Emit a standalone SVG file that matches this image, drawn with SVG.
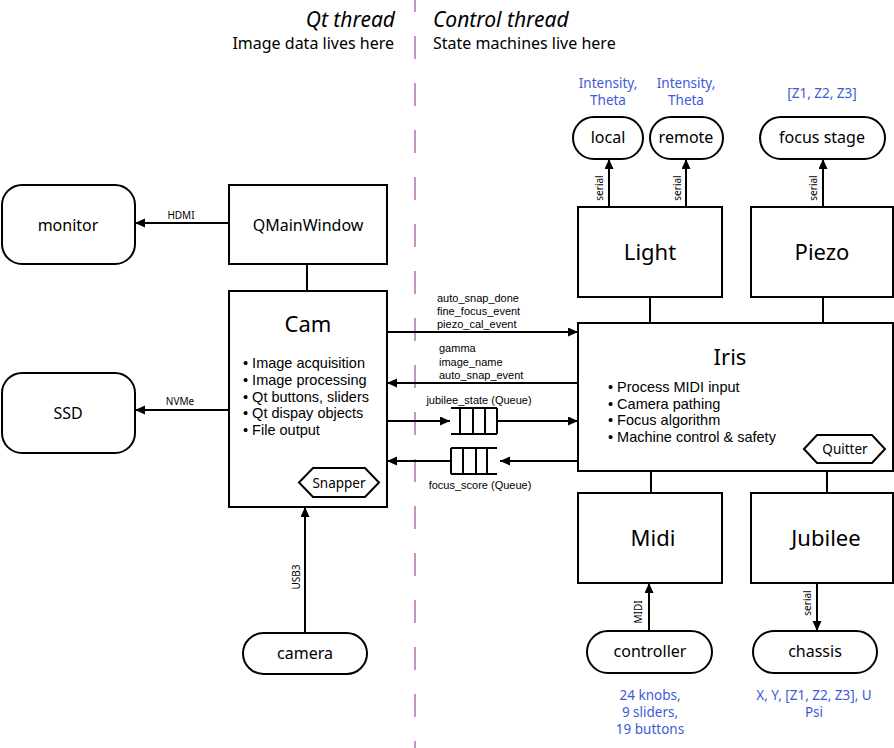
<svg xmlns="http://www.w3.org/2000/svg" width="894" height="748" viewBox="0 0 894 748">
<style>
  .box{fill:#fff;stroke:#000;stroke-width:2}
  .ln{fill:none;stroke:#000;stroke-width:2}
  .t{font-family:"Noto Sans","Liberation Sans",sans-serif;fill:#000}
  .node{font-size:16px;text-anchor:middle}
  .big{font-size:22px;text-anchor:middle}
  .bul{font-family:"Liberation Sans","Noto Sans",sans-serif;font-size:14.5px;fill:#000}
  .hex{font-size:13.5px;text-anchor:middle}
  .sm{font-family:"Liberation Sans","Noto Sans",sans-serif;font-size:11px;fill:#000}
  .lbl{font-size:10px}
  .blue{font-family:"Noto Sans","Liberation Sans",sans-serif;fill:#3c5bd6;font-size:13.5px;text-anchor:middle}
  .hdr{font-size:21px;font-style:italic}
  .sub{font-size:16px}
  .div{stroke:#c792c4;stroke-width:2;stroke-dasharray:23 24;stroke-dashoffset:11;fill:none}
</style>
<defs>
  <marker id="ah" markerUnits="userSpaceOnUse" markerWidth="11" markerHeight="10" refX="10" refY="4.5" orient="auto">
    <path d="M0,0 L10,4.5 L0,9 z" fill="#000"/>
  </marker>
</defs>
<rect width="894" height="748" fill="#fff"/>
<line class="div" x1="415" y1="0" x2="415" y2="748"/>
<g id="headers">
  <text class="t hdr" x="395" y="27" text-anchor="end">Qt thread</text>
  <text class="t sub" x="394" y="49" text-anchor="end">Image data lives here</text>
  <text class="t hdr" x="433" y="27">Control thread</text>
  <text class="t sub" x="433" y="49">State machines live here</text>
</g>
<g id="connectors">
  <line class="ln" x1="229" y1="223" x2="135" y2="223" marker-end="url(#ah)"/>
  <text class="t lbl" x="181" y="219" text-anchor="middle">HDMI</text>
  <line class="ln" x1="229" y1="410" x2="135" y2="410" marker-end="url(#ah)"/>
  <text class="t lbl" x="180" y="405" text-anchor="middle">NVMe</text>
  <line class="ln" x1="307" y1="264" x2="307" y2="291"/>
  <line class="ln" x1="305" y1="633" x2="305" y2="507" marker-end="url(#ah)"/>
  <text class="t lbl" x="300" y="577" text-anchor="middle" transform="rotate(-90 300 577)">USB3</text>
  <line class="ln" x1="387" y1="332" x2="578" y2="332" marker-end="url(#ah)"/>
  <text class="sm" x="437" y="302">auto_snap_done</text>
  <text class="sm" x="437" y="315">fine_focus_event</text>
  <text class="sm" x="437" y="328">piezo_cal_event</text>
  <line class="ln" x1="578" y1="383" x2="387" y2="383" marker-end="url(#ah)"/>
  <text class="sm" x="439" y="352">gamma</text>
  <text class="sm" x="439" y="366">image_name</text>
  <text class="sm" x="439" y="379">auto_snap_event</text>
  <line class="ln" x1="387" y1="421" x2="450" y2="421" marker-end="url(#ah)"/>
  <path class="ln" d="M451,408 H497 M451,434 H497 M460,408 V434 M473,408 V434 M485,408 V434 M497,408 V434"/>
  <line class="ln" x1="497" y1="421" x2="578" y2="421" marker-end="url(#ah)"/>
  <text class="sm" x="479" y="404" text-anchor="middle">jubilee_state (Queue)</text>
  <line class="ln" x1="578" y1="461" x2="500" y2="461" marker-end="url(#ah)"/>
  <path class="ln" d="M451,448 H497 M451,474 H497 M451,448 V474 M463,448 V474 M476,448 V474 M487,448 V474"/>
  <line class="ln" x1="451" y1="461" x2="387" y2="461" marker-end="url(#ah)"/>
  <text class="sm" x="480" y="489" text-anchor="middle">focus_score (Queue)</text>
  <line class="ln" x1="609" y1="207" x2="609" y2="159" marker-end="url(#ah)"/>
  <text class="t lbl" x="603" y="188" text-anchor="middle" transform="rotate(-90 603 188)">serial</text>
  <line class="ln" x1="686" y1="207" x2="686" y2="159" marker-end="url(#ah)"/>
  <text class="t lbl" x="681" y="188" text-anchor="middle" transform="rotate(-90 681 188)">serial</text>
  <line class="ln" x1="823" y1="207" x2="823" y2="159" marker-end="url(#ah)"/>
  <text class="t lbl" x="817" y="188" text-anchor="middle" transform="rotate(-90 817 188)">serial</text>
  <line class="ln" x1="650" y1="297" x2="650" y2="323"/>
  <line class="ln" x1="823" y1="297" x2="823" y2="323"/>
  <line class="ln" x1="651" y1="471" x2="651" y2="493"/>
  <line class="ln" x1="827" y1="471" x2="827" y2="493"/>
  <line class="ln" x1="649" y1="631" x2="649" y2="583" marker-end="url(#ah)"/>
  <text class="t lbl" x="642" y="612" text-anchor="middle" transform="rotate(-90 642 612)">MIDI</text>
  <line class="ln" x1="817" y1="583" x2="817" y2="631" marker-end="url(#ah)"/>
  <text class="t lbl" x="811" y="603" text-anchor="middle" transform="rotate(-90 811 603)">serial</text>
</g>
<g id="monitor">
  <rect class="box" x="2" y="185" width="133" height="79" rx="20"/>
  <text class="t node" x="68" y="231">monitor</text>
</g>
<g id="ssd">
  <rect class="box" x="2" y="373" width="133" height="80" rx="20"/>
  <text class="t node" x="68" y="419">SSD</text>
</g>
<g id="qmainwindow">
  <rect class="box" x="229" y="185" width="158" height="79"/>
  <text class="t node" x="308" y="231">QMainWindow</text>
</g>
<g id="cam">
  <rect class="box" x="229" y="291" width="158" height="216"/>
  <text class="t big" x="308" y="332">Cam</text>
  <text class="bul" x="243" y="368">• Image acquisition</text>
  <text class="bul" x="243" y="384.75">• Image processing</text>
  <text class="bul" x="243" y="401.5">• Qt buttons, sliders</text>
  <text class="bul" x="243" y="418.25">• Qt dispay objects</text>
  <text class="bul" x="243" y="435">• File output</text>
  <polygon class="box" points="299,482.5 313,468 365,468 379,482.5 365,497 313,497"/>
  <text class="t hex" x="339" y="487.5">Snapper</text>
</g>
<g id="camera">
  <rect class="box" x="243" y="633" width="124" height="41" rx="20.5"/>
  <text class="t node" x="305" y="659">camera</text>
</g>
<g id="local">
  <rect class="box" x="573" y="117" width="70" height="42" rx="21"/>
  <text class="t node" x="608" y="143">local</text>
  <text class="blue" x="608" y="88">Intensity,</text>
  <text class="blue" x="608" y="105">Theta</text>
</g>
<g id="remote">
  <rect class="box" x="650" y="117" width="73" height="42" rx="21"/>
  <text class="t node" x="686" y="143">remote</text>
  <text class="blue" x="686" y="88">Intensity,</text>
  <text class="blue" x="686" y="105">Theta</text>
</g>
<g id="focus-stage">
  <rect class="box" x="760" y="117" width="125" height="42" rx="21"/>
  <text class="t node" x="822" y="143">focus stage</text>
  <text class="blue" x="822" y="98">[Z1, Z2, Z3]</text>
</g>
<g id="light">
  <rect class="box" x="578" y="207" width="144" height="90"/>
  <text class="t big" x="650" y="260">Light</text>
</g>
<g id="piezo">
  <rect class="box" x="751" y="207" width="142" height="90"/>
  <text class="t big" x="822" y="260">Piezo</text>
</g>
<g id="iris">
  <rect class="box" x="578" y="323" width="315" height="148"/>
  <text class="t big" x="730" y="365" font-size="24">Iris</text>
  <text class="bul" x="608" y="392">• Process MIDI input</text>
  <text class="bul" x="608" y="408.7">• Camera pathing</text>
  <text class="bul" x="608" y="425.3">• Focus algorithm</text>
  <text class="bul" x="608" y="442">• Machine control &amp; safety</text>
  <polygon class="box" points="804,449 817,435 872,435 885,449 872,463 817,463"/>
  <text class="t hex" x="845" y="454">Quitter</text>
</g>
<g id="midi">
  <rect class="box" x="578" y="493" width="144" height="90"/>
  <text class="t big" x="653" y="546">Midi</text>
</g>
<g id="jubilee">
  <rect class="box" x="751" y="493" width="142" height="90"/>
  <text class="t big" x="826" y="546">Jubilee</text>
</g>
<g id="controller">
  <rect class="box" x="587" y="631" width="125" height="42" rx="21"/>
  <text class="t node" x="650" y="657">controller</text>
  <text class="blue" x="650" y="700">24 knobs,</text>
  <text class="blue" x="650" y="717">9 sliders,</text>
  <text class="blue" x="650" y="734">19 buttons</text>
</g>
<g id="chassis">
  <rect class="box" x="753" y="631" width="124" height="42" rx="21"/>
  <text class="t node" x="815" y="657">chassis</text>
  <text class="blue" x="814" y="700">X, Y, [Z1, Z2, Z3], U</text>
  <text class="blue" x="814" y="717">Psi</text>
</g>
</svg>
